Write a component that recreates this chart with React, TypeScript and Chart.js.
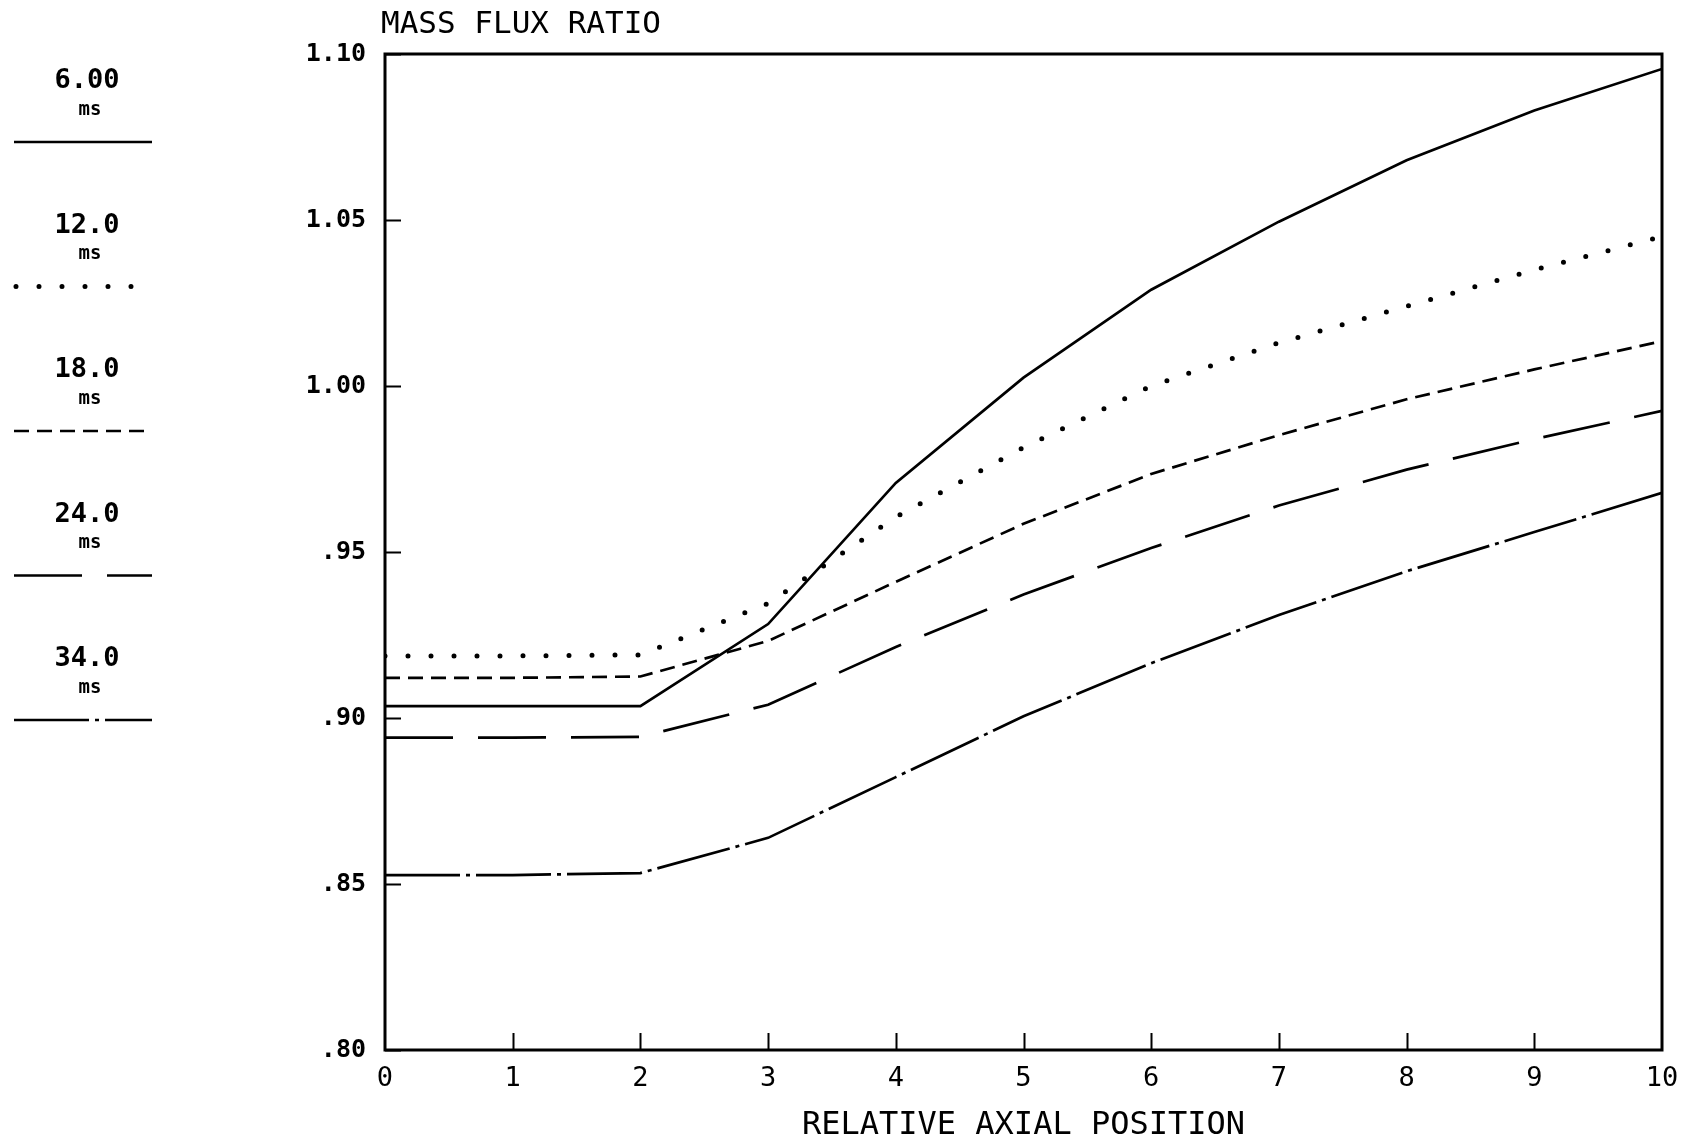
import React, { useEffect, useRef } from "react";
import { Chart, registerables } from "chart.js";

Chart.register(...registerables);

// ---- data ----
const positions = [0, 1, 2, 3, 4, 5, 6, 7, 8, 9, 10];
const seriesLabels = ["6.00", "12.0", "18.0", "24.0", "34.0"];
const seriesUnit = "ms";
const ms6 = [0.9036, 0.9036, 0.9036, 0.9283, 0.9708, 1.0025, 1.029, 1.0495, 1.068, 1.083, 1.0955];
const ms12 = [0.9187, 0.9187, 0.919, 0.9345, 0.9605, 0.9815, 1.0, 1.013, 1.024, 1.035, 1.045];
const ms18 = [0.9121, 0.9121, 0.9125, 0.9232, 0.941, 0.9585, 0.9735, 0.9852, 0.996, 1.005, 1.0135];
const ms24 = [0.8941, 0.8941, 0.8943, 0.904, 0.9214, 0.9372, 0.9512, 0.964, 0.9748, 0.984, 0.9925];
const ms34 = [0.8527, 0.8527, 0.8533, 0.8639, 0.8822, 0.9005, 0.9165, 0.931, 0.9442, 0.956, 0.9678];
const yTickValues = [0.8, 0.85, 0.9, 0.95, 1.0, 1.05, 1.1];
const xTickValues = [1, 2, 3, 4, 5, 6, 7, 8, 9];
const yTitle = "MASS FLUX RATIO";
const xTitle = "RELATIVE AXIAL POSITION";

const FONT = "'DejaVu Sans Mono', 'Liberation Mono', monospace";

const styles = [
  { borderWidth: 2.7, borderDash: [] as number[], borderCapStyle: "butt" },
  { borderWidth: 5, borderDash: [0, 23], borderCapStyle: "round" },
  { borderWidth: 2.7, borderDash: [15, 8], borderCapStyle: "butt" },
  { borderWidth: 2.7, borderDash: [68, 25], borderCapStyle: "butt" },
  { borderWidth: 2.7, borderDash: [75, 6, 4, 6], borderCapStyle: "butt" },
];

const decorPlugin = {
  id: "decor",
  afterDraw(chart: any) {
    const { ctx, chartArea: a, scales } = chart;
    const x = scales.x;
    const y = scales.y;
    ctx.save();
    ctx.strokeStyle = "#000";
    ctx.fillStyle = "#000";
    ctx.setLineDash([]);
    ctx.lineWidth = 3;
    ctx.strokeRect(a.left, a.top, a.right - a.left, a.bottom - a.top);
    ctx.lineWidth = 2;
    ctx.beginPath();
    for (const v of yTickValues) {
      const py = Math.round(y.getPixelForValue(v)) + 0.5;
      ctx.moveTo(a.left, py);
      ctx.lineTo(a.left + 16, py);
    }
    for (const v of xTickValues) {
      const px = Math.round(x.getPixelForValue(v)) + 0.5;
      ctx.moveTo(px, a.bottom);
      ctx.lineTo(px, a.bottom - 17);
    }
    ctx.stroke();

    // titles
    ctx.font = `31px ${FONT}`;
    ctx.textAlign = "left";
    ctx.textBaseline = "middle";
    ctx.fillText(yTitle, 381, 25);
    ctx.font = `32px ${FONT}`;
    ctx.textAlign = "center";
    ctx.fillText(xTitle, (a.left + a.right) / 2, 1126);

    // legend
    const ds = chart.data.datasets;
    for (let i = 0; i < ds.length; i++) {
      const base = 81 + i * 144.5;
      ctx.font = `bold 27px ${FONT}`;
      ctx.textAlign = "center";
      ctx.textBaseline = "middle";
      ctx.fillText(seriesLabels[i], 87, base);
      ctx.font = `bold 19px ${FONT}`;
      ctx.fillText(seriesUnit, 90, base + 29);
      const st = styles[i];
      ctx.lineWidth = st.borderWidth;
      ctx.lineCap = st.borderCapStyle;
      ctx.setLineDash(st.borderDash);
      ctx.beginPath();
      const ly = base + 61;
      ctx.moveTo(i === 1 ? 16 : 14, ly);
      ctx.lineTo(152, ly);
      ctx.stroke();
    }
    ctx.restore();
  },
};

export default function App() {
  const ref = useRef<HTMLCanvasElement | null>(null);
  useEffect(() => {
    if (!ref.current) return;
    const all = [ms6, ms12, ms18, ms24, ms34];
    const chart = new Chart(ref.current, {
      type: "line",
      data: {
        datasets: all.map((vals, i) => ({
          label: seriesLabels[i] + " " + seriesUnit,
          data: positions.map((p, k) => ({ x: p, y: vals[k] })),
          borderColor: "#000",
          backgroundColor: "#000",
          borderWidth: styles[i].borderWidth,
          borderDash: styles[i].borderDash,
          borderCapStyle: styles[i].borderCapStyle as any,
          pointRadius: 0,
          tension: 0,
          fill: false,
        })),
      },
      options: {
        responsive: false,
        animation: false,
        devicePixelRatio: 1,
        layout: { padding: { left: 0, top: 54, right: 34, bottom: 0 } },
        plugins: {
          legend: { display: false },
          tooltip: { enabled: false },
          title: { display: false },
        },
        scales: {
          x: {
            type: "linear",
            min: 0,
            max: 10,
            grid: { display: false, drawTicks: false },
            border: { display: false },
            ticks: {
              stepSize: 1,
              color: "#000",
              padding: 13,
              maxRotation: 0,
              font: { family: FONT, size: 27 },
              callback: (v: any) => String(v),
            },
            afterFit: (s: any) => {
              s.height = 94;
            },
          },
          y: {
            type: "linear",
            min: 0.8,
            max: 1.1,
            grid: { display: false, drawTicks: false },
            border: { display: false },
            ticks: {
              stepSize: 0.05,
              color: "#000",
              padding: 19,
              font: { family: FONT, size: 25, weight: "bold" },
              callback: (v: any) => {
                const s = Number(v).toFixed(2);
                return Number(v) < 1 ? s.replace(/^0/, "") : s;
              },
            },
            afterFit: (s: any) => {
              s.width = 385;
            },
          },
        },
      },
      plugins: [decorPlugin],
    });
    return () => chart.destroy();
  }, []);
  return (
    <div
      style={{
        position: "fixed",
        left: 0,
        top: 0,
        width: 1696,
        height: 1144,
        background: "#fff",
      }}
    >
      <canvas ref={ref} width={1696} height={1144} style={{ width: 1696, height: 1144, display: "block" }} />
    </div>
  );
}
